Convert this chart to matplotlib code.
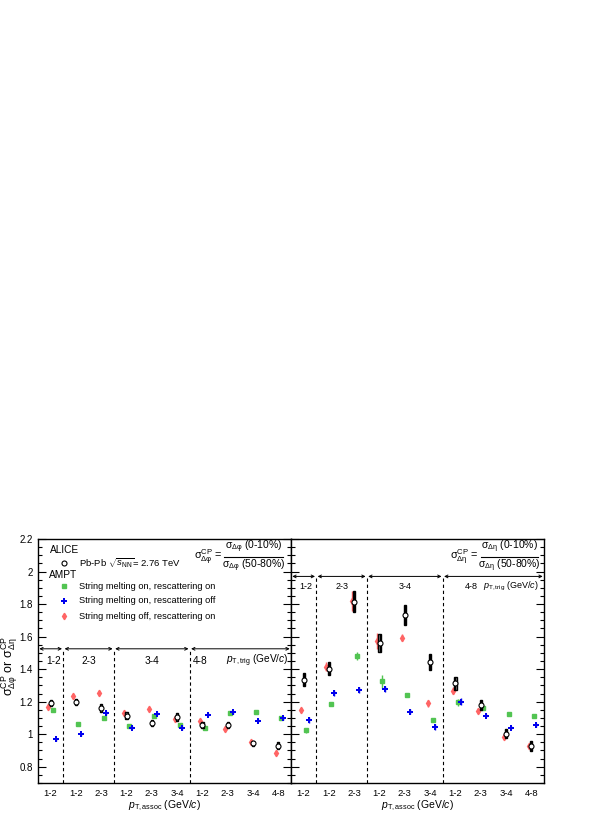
import matplotlib
matplotlib.use("Agg")
import matplotlib.pyplot as plt
import numpy as np
from matplotlib.patches import Rectangle
from matplotlib.ticker import MultipleLocator

plt.rcParams["font.family"] = ["Liberation Sans", "DejaVu Sans"]
plt.rcParams["mathtext.fontset"] = "custom"
plt.rcParams["mathtext.rm"] = "Liberation Sans"
plt.rcParams["mathtext.it"] = "Liberation Sans:italic"
plt.rcParams["mathtext.bf"] = "Liberation Sans:bold"

# bins: pT,trig groups x pT,assoc
assoc_labels = ["1-2", "1-2", "2-3", "1-2", "2-3", "3-4", "1-2", "2-3", "3-4", "4-8"]
trig_labels = ["1-2", "2-3", "3-4", "4-8"]
group_edges = [0, 1, 3, 6, 10]

# sigma_dphi CP ratio
phi_alice = [1.193, 1.197, 1.162, 1.114, 1.068, 1.106, 1.058, 1.058, 0.944, 0.930]
phi_alice_stat = [0.015, 0.015, 0.015, 0.012, 0.012, 0.015, 0.012, 0.012, 0.012, 0.015]
phi_alice_sys = [0.02, 0.02, 0.025, 0.02, 0.02, 0.025, 0.02, 0.02, 0.015, 0.02]
phi_green = [1.147, 1.064, 1.100, 1.052, 1.114, 1.058, 1.039, 1.133, 1.135, 1.100]
phi_blue = [0.969, 1.000, 1.130, 1.041, 1.126, 1.037, 1.120, 1.135, 1.083, 1.097]
phi_red = [1.170, 1.234, 1.255, 1.128, 1.153, 1.095, 1.083, 1.031, 0.954, 0.886]
phi_green_err = [0.008] * 10
phi_blue_err = [0.01] * 10
phi_red_err = [0.01] * 10

# sigma_deta CP ratio
eta_alice = [1.334, 1.402, 1.815, 1.561, 1.732, 1.443, 1.313, 1.179, 1.004, 0.928]
eta_alice_stat = [0.04, 0.04, 0.065, 0.055, 0.06, 0.05, 0.04, 0.03, 0.03, 0.03]
eta_alice_sys = [0.04, 0.04, 0.065, 0.055, 0.06, 0.05, 0.04, 0.03, 0.03, 0.03]
eta_green = [1.025, 1.186, 1.482, 1.324, 1.241, 1.087, 1.196, 1.163, 1.124, 1.109]
eta_blue = [1.087, 1.252, 1.272, 1.278, 1.138, 1.045, 1.200, 1.113, 1.041, 1.056]
eta_red = [1.148, 1.416, 1.820, 1.571, 1.592, 1.190, 1.268, 1.142, 0.984, 0.928]
eta_green_err = [0.015, 0.015, 0.025, 0.04, 0.015, 0.015, 0.02, 0.015, 0.01, 0.01]
eta_blue_err = [0.02, 0.02, 0.02, 0.02, 0.015, 0.02, 0.02, 0.01, 0.01, 0.01]
eta_red_err = [0.01, 0.03, 0.06, 0.05, 0.022, 0.02, 0.02, 0.01, 0.01, 0.01]

RED = "#ff6464"
GREEN = "#52c452"
BLUE = "#0000ee"

fig = plt.figure(figsize=(5.98, 8.14), dpi=100)
axl = fig.add_axes([38 / 598, 1 - 783 / 814, 253 / 598, 244 / 814])
axr = fig.add_axes([291 / 598, 1 - 783 / 814, 253 / 598, 244 / 814])

x = np.arange(10) + 0.5


def draw_panel(ax, alice, stat, sys, green, gerr, blue, berr, red, rerr,
               arrow_y, label_y, label_pos, label_fs):
    # AMPT
    ax.errorbar(x - 0.1, red, yerr=rerr, fmt="d", ms=3.3, color=RED,
                mec=RED, elinewidth=1.0, capsize=0, zorder=3)
    ax.errorbar(x + 0.1, green, yerr=gerr, fmt="s", ms=3.0, color=GREEN,
                mec=GREEN, elinewidth=1.0, capsize=0, zorder=3)
    ax.errorbar(x + 0.2, blue, yerr=berr, fmt="P", ms=4.0, color=BLUE,
                mec=BLUE, mew=0.0, elinewidth=1.0, capsize=0, zorder=3)
    # ALICE: systematic boxes + stat errors
    for xi, yi, s in zip(x, alice, sys):
        ax.add_patch(Rectangle((xi - 0.045, yi - s), 0.09, 2 * s, fc="#909090",
                               ec="black", lw=1.0, zorder=4))
    ax.errorbar(x, alice, yerr=stat, fmt="o", ms=3.6, mfc="white", mec="black",
                mew=0.8, color="black", elinewidth=1.0, capsize=0, zorder=5)

    # group separators, arrows and labels
    for e in group_edges[1:-1]:
        ax.plot([e, e], [0.7, arrow_y], ls=(0, (3, 2.5)), color="black", lw=0.8)
    for a, b in zip(group_edges[:-1], group_edges[1:]):
        ax.annotate("", xy=(b - 0.05, arrow_y), xytext=(a + 0.05, arrow_y),
                    arrowprops=dict(arrowstyle="<->", lw=0.7, color="black",
                                    mutation_scale=5, shrinkA=0, shrinkB=0))
    for lab, px in zip(trig_labels, label_pos[:4]):
        ax.text(px, label_y, lab, ha="center", va="center", fontsize=label_fs)
    ax.text(label_pos[4], label_y, r"$p_{\rm T,trig}$ (GeV/$c$)", ha="right",
            va="center", fontsize=label_fs)

    ax.set_xlim(0, 10)
    ax.set_ylim(0.7, 2.2)
    ax.set_xticks(x)
    ax.set_xticklabels(assoc_labels, fontsize=6.8)
    ax.tick_params(axis="x", length=0, pad=4)
    ax.yaxis.set_major_locator(MultipleLocator(0.2))
    ax.yaxis.set_minor_locator(MultipleLocator(0.05))
    ax.tick_params(axis="y", which="major", direction="in", length=5.5,
                   width=0.8, left=True, right=True, labelsize=7)
    ax.tick_params(axis="y", which="minor", direction="in", length=3,
                   width=0.8, left=True, right=True)
    for sp in ax.spines.values():
        sp.set_linewidth(1.0)
    ax.set_xlabel(r"$p_{\rm T,assoc}$ (GeV/$c$)", fontsize=7.5, labelpad=1)


draw_panel(axl, phi_alice, phi_alice_stat, phi_alice_sys, phi_green,
           phi_green_err, phi_blue, phi_blue_err, phi_red, phi_red_err,
           1.525, 1.453, [0.6, 2.0, 4.5, 6.43, 9.9], 7.3)
draw_panel(axr, eta_alice, eta_alice_stat, eta_alice_sys, eta_green,
           eta_green_err, eta_blue, eta_blue_err, eta_red, eta_red_err,
           1.97, 1.907, [0.58, 2.0, 4.5, 7.14, 9.8], 6.5)
axr.tick_params(axis="y", labelleft=False)
axl.set_yticks([0.8, 1.0, 1.2, 1.4, 1.6, 1.8, 2.0, 2.2])
axl.set_yticklabels(["0.8", "1", "1.2", "1.4", "1.6", "1.8", "2", "2.2"])
axl.set_ylabel(r"$\mathrm{\sigma}^{\rm CP}_{\mathrm{\Delta\varphi}}$ or "
               r"$\mathrm{\sigma}^{\rm CP}_{\mathrm{\Delta\eta}}$", fontsize=9)
axl.yaxis.set_label_coords(-0.072, 0.48)

# legend
tl = axl.transAxes
axl.text(0.048, 0.955, "ALICE", transform=tl, fontsize=7.3, va="center")
axl.plot([0.103], [0.902], "o", ms=3.6, mfc="white", mec="black", mew=0.8,
         transform=tl)
axl.text(0.162, 0.902, r"Pb-Pb $\sqrt{s_{\rm NN}}$= 2.76 TeV", transform=tl,
         fontsize=6.8, va="center")
axl.text(0.043, 0.852, "AMPT", transform=tl, fontsize=7.3, va="center")
axl.plot([0.103], [0.807], "s", ms=3.0, color=GREEN, transform=tl)
axl.plot([0.103], [0.746], "P", ms=4.0, color=BLUE, mew=0, transform=tl)
axl.plot([0.103], [0.684], "d", ms=3.3, color=RED, transform=tl)
legend_texts = ["String melting on, rescattering on",
                "String melting on, rescattering off",
                "String melting off, rescattering on"]
for t, yy in zip(legend_texts, [0.807, 0.746, 0.684]):
    axl.text(0.162, yy, t, transform=tl, fontsize=6.7, va="center")


def draw_formula(ax, sub, xeq, x0, x1):
    tr = ax.transAxes
    ax.text(xeq, 0.927, r"$\mathrm{\sigma}^{\rm CP}_{\mathrm{%s}}$ =" % sub,
            transform=tr, ha="right", va="center", fontsize=7.8)
    ax.plot([x0, x1], [0.927, 0.927], color="black", lw=0.8, transform=tr)
    xc = 0.5 * (x0 + x1)
    ax.text(xc, 0.968, r"$\mathrm{\sigma}_{\mathrm{%s}}$ (0-10%%)" % sub,
            transform=tr, ha="center", va="center", fontsize=7.5)
    ax.text(xc, 0.890, r"$\mathrm{\sigma}_{\mathrm{%s}}$ (50-80%%)" % sub,
            transform=tr, ha="center", va="center", fontsize=7.5)


draw_formula(axl, r"\Delta\varphi", 0.728, 0.735, 0.968)
draw_formula(axr, r"\Delta\eta", 0.742, 0.75, 0.976)

fig.savefig("out.png", dpi=100)
